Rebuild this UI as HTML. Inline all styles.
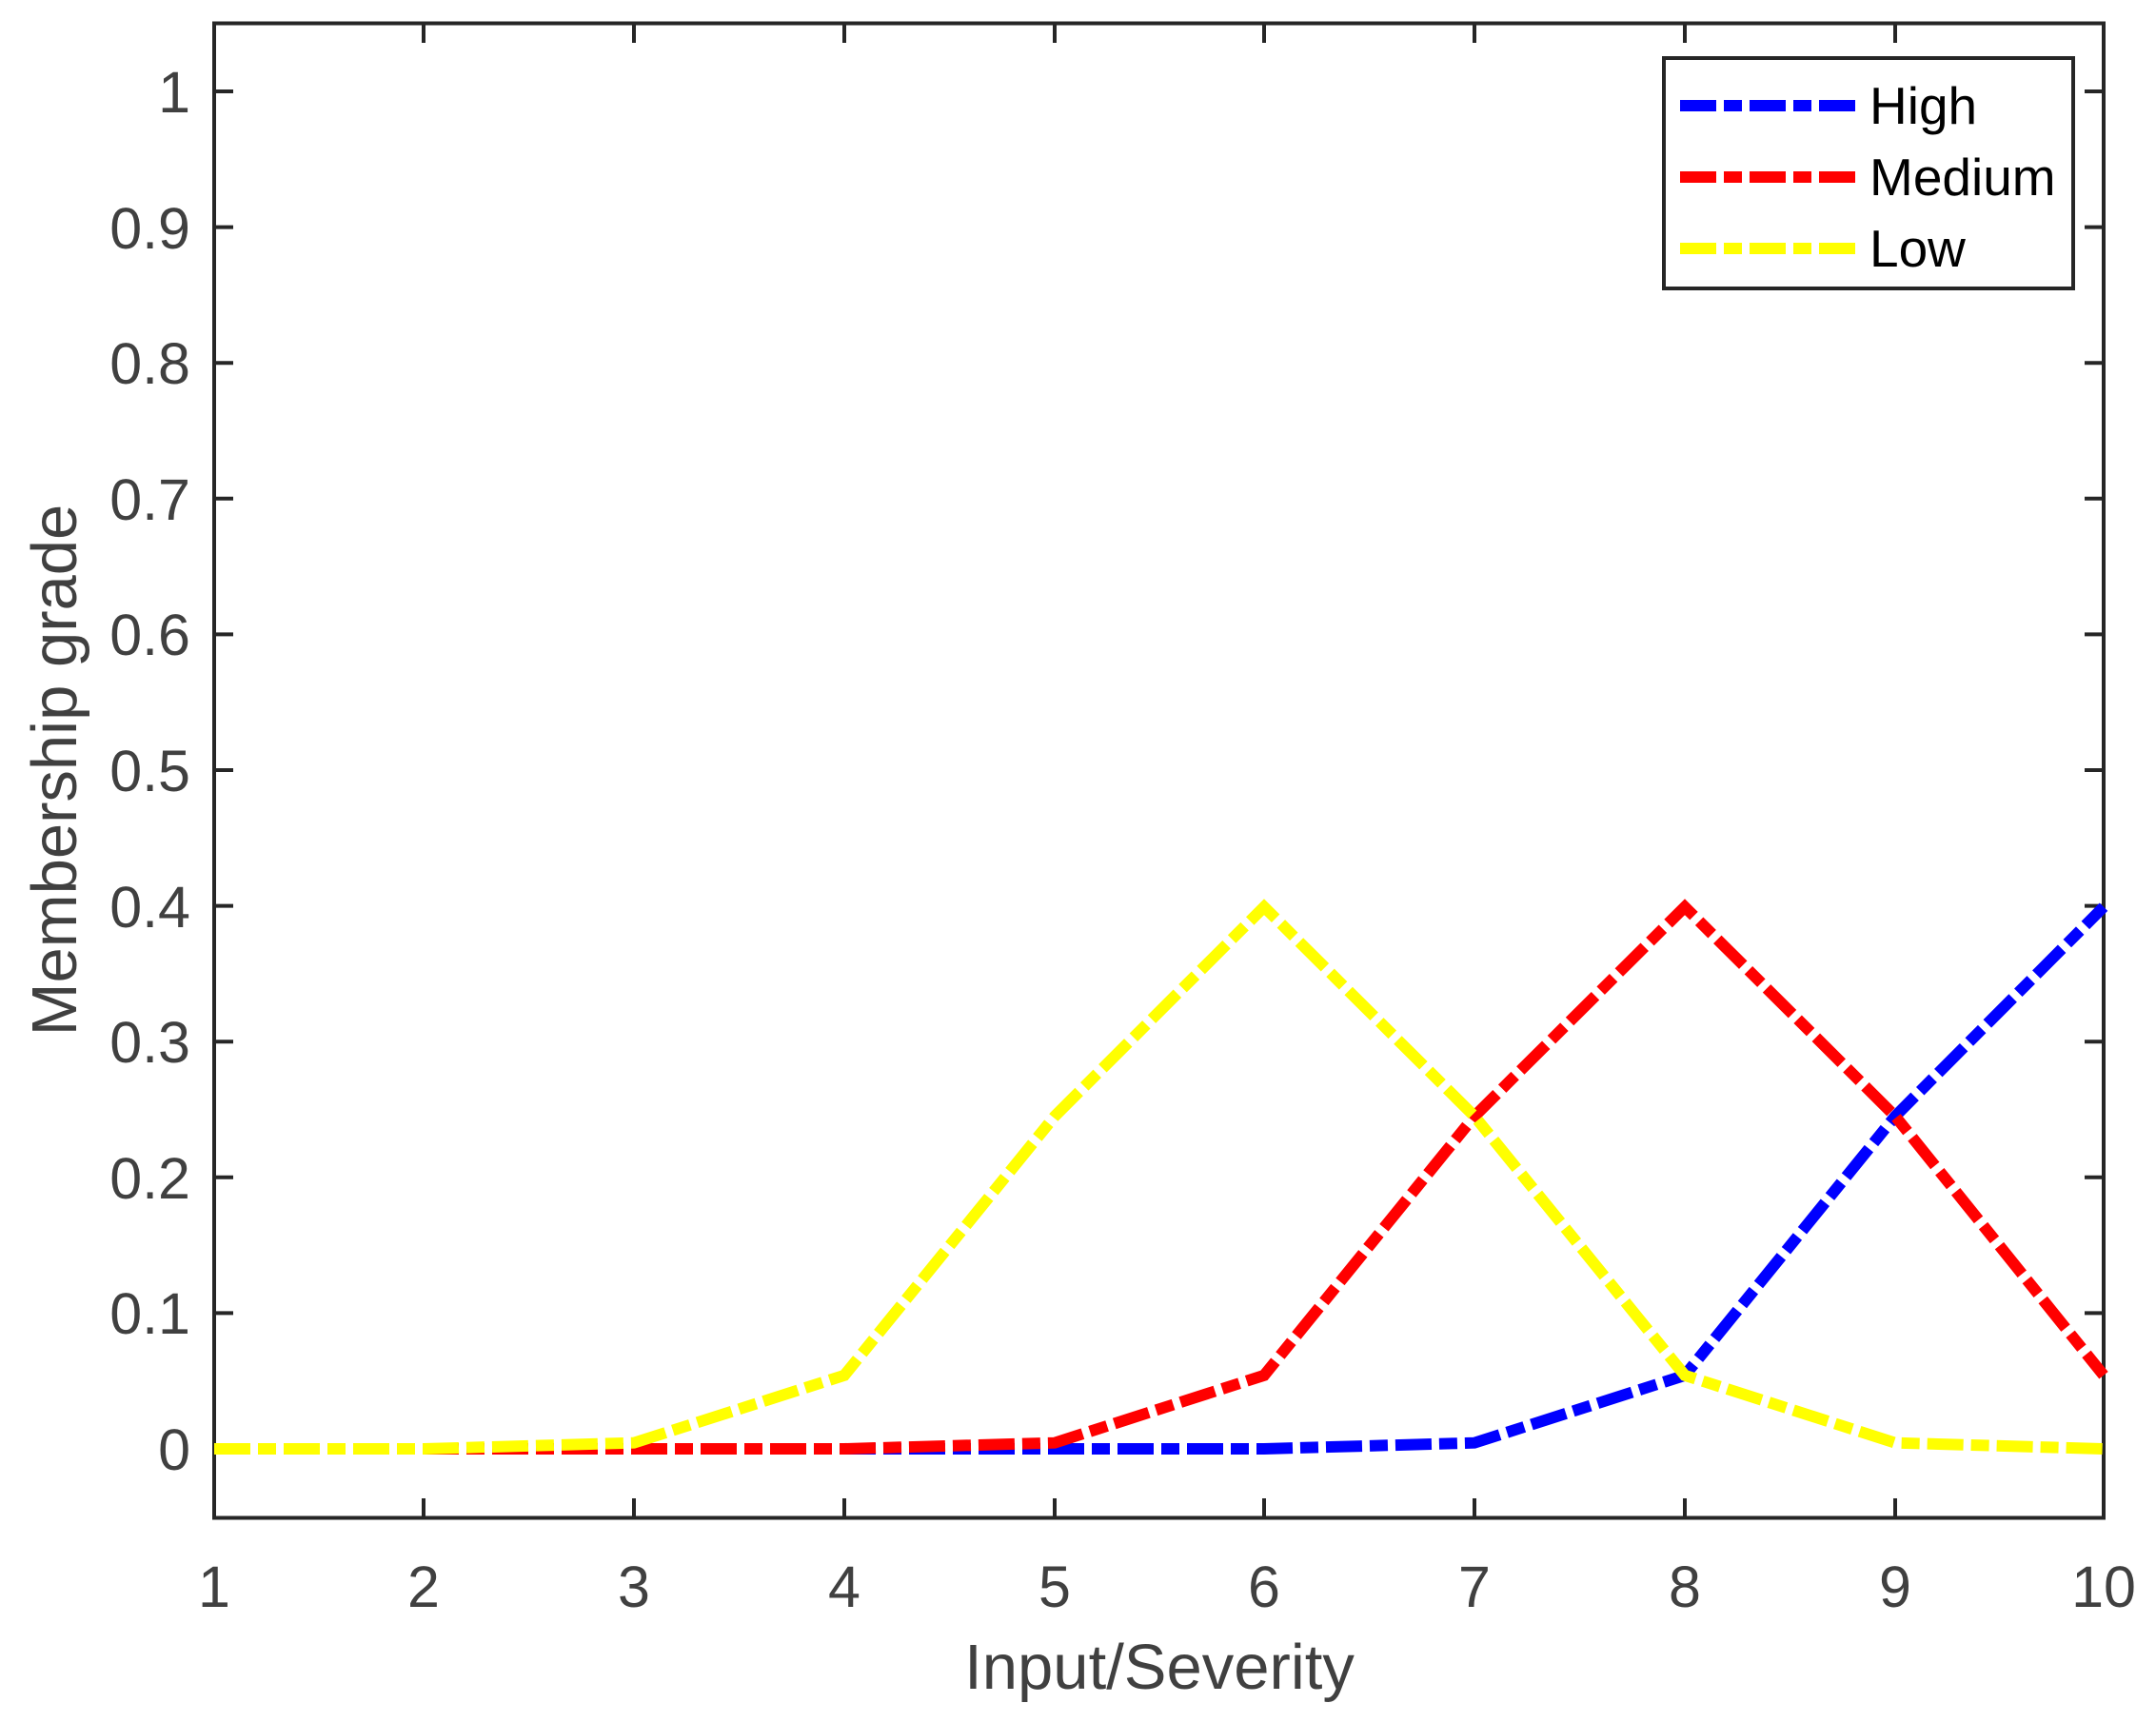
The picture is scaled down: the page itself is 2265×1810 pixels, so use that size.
<!DOCTYPE html>
<html><head><meta charset="utf-8"><style>html,body{margin:0;padding:0;background:#fff}</style></head>
<body>
<svg width="2265" height="1805" viewBox="0 0 2265 1805" xmlns="http://www.w3.org/2000/svg" font-family="'Liberation Sans', Arial, sans-serif">
<rect width="2265" height="1805" fill="#fff"/>
<g stroke="#262626" stroke-width="4" fill="none">
<rect x="225" y="24.5" width="1985" height="1570"/>
<path d="M445,1594v-20M666,1594v-20M887,1594v-20M1108,1594v-20M1328,1594v-20M1549,1594v-20M1770,1594v-20M1991,1594v-20
M445,25v20M666,25v20M887,25v20M1108,25v20M1328,25v20M1549,25v20M1770,25v20M1991,25v20
M225,1522h20M225,1379.4h20M225,1236.8h20M225,1094.2h20M225,951.6h20M225,809h20M225,666.4h20M225,523.8h20M225,381.2h20M225,238.6h20M225,96h20
M2210,1522h-20M2210,1379.4h-20M2210,1236.8h-20M2210,1094.2h-20M2210,951.6h-20M2210,809h-20M2210,666.4h-20M2210,523.8h-20M2210,381.2h-20M2210,238.6h-20M2210,96h-20"/>
</g>
<g fill="#404040" font-size="61" text-anchor="end">
<text x="200" y="1544">0</text>
<text x="200" y="1401">0.1</text>
<text x="200" y="1259">0.2</text>
<text x="200" y="1116">0.3</text>
<text x="200" y="974">0.4</text>
<text x="200" y="831">0.5</text>
<text x="200" y="688">0.6</text>
<text x="200" y="546">0.7</text>
<text x="200" y="403">0.8</text>
<text x="200" y="261">0.9</text>
<text x="200" y="118">1</text>
</g>
<g fill="#404040" font-size="61" text-anchor="middle">
<text x="225" y="1688">1</text>
<text x="445" y="1688">2</text>
<text x="666" y="1688">3</text>
<text x="887" y="1688">4</text>
<text x="1108" y="1688">5</text>
<text x="1328" y="1688">6</text>
<text x="1549" y="1688">7</text>
<text x="1770" y="1688">8</text>
<text x="1991" y="1688">9</text>
<text x="2210" y="1688">10</text>
<text x="1218" y="1774" font-size="67">Input/Severity</text>
<text transform="translate(80,809) rotate(-90)" font-size="67">Membership grade</text>
</g>
<g fill="none" stroke-width="12" stroke-dasharray="38 8 19 8">
<polyline stroke="#0000ff" points="225,1522 445,1522 666,1522 887,1522 1108,1522 1328,1522 1549,1515.7 1770,1444.8 1991,1172.6 2210,952.7"/>
<polyline stroke="#ff0000" points="225,1522 445,1522 666,1522 887,1522 1108,1515.7 1328,1444.8 1549,1172.6 1770,952.7 1991,1172.6 2210,1444.8"/>
<polyline stroke="#ffff00" points="225,1522 445,1522 666,1515.7 887,1444.8 1108,1172.6 1328,952.7 1549,1172.6 1770,1444.8 1991,1515.7 2210,1522"/>
</g>
<rect x="1748" y="61" width="430" height="242" fill="#fff" stroke="#262626" stroke-width="4"/>
<g stroke-width="12" stroke-dasharray="38 8 19 8">
<line x1="1765" y1="111" x2="1950" y2="111" stroke="#0000ff"/>
<line x1="1765" y1="186" x2="1950" y2="186" stroke="#ff0000"/>
<line x1="1765" y1="261" x2="1950" y2="261" stroke="#ffff00"/>
</g>
<g fill="#000" font-size="55">
<text x="1964" y="130">High</text>
<text x="1964" y="205">Medium</text>
<text x="1964" y="280">Low</text>
</g>
</svg>
</body></html>
